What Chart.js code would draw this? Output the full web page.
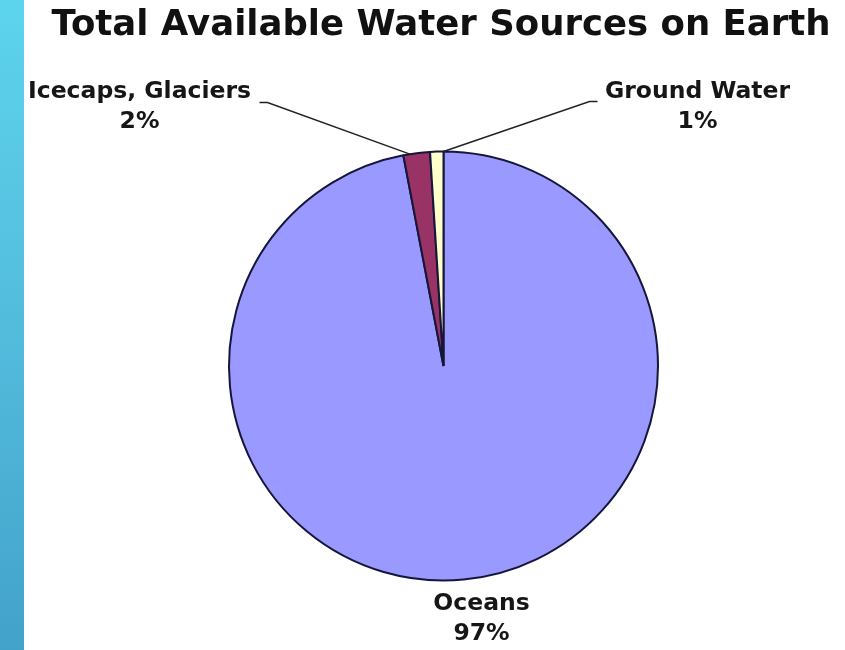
<!DOCTYPE html>
<html>
<head>
<meta charset="utf-8">
<title>Total Available Water Sources on Earth</title>
<script src="https://cdn.jsdelivr.net/npm/chart.js@4/dist/chart.umd.min.js"></script>
<style>
  html, body { margin: 0; padding: 0; background: #ffffff; }
  #wrap { position: relative; width: 845px; height: 650px; }
  canvas { display: block; }
</style>
</head>
<body>
<div id="wrap"><canvas id="chart" width="845" height="650"></canvas></div>
<script>
// Data
const chartTitle = 'Total Available Water Sources on Earth';
const categories = ['Oceans', 'Icecaps, Glaciers', 'Ground Water'];
const shares = [97, 2, 1];
const sliceColors = ['#9999FF', '#993366', '#FFFFCC'];

const FONT = '"DejaVu Sans", Verdana, sans-serif';

// Vertical accent stripe on the left edge and the chart heading
const backdrop = {
  id: 'backdrop',
  beforeDraw(chart) {
    const ctx = chart.ctx;
    ctx.save();
    ctx.fillStyle = '#ffffff';
    ctx.fillRect(0, 0, chart.width, chart.height);
    const g = ctx.createLinearGradient(0, 0, 0, chart.height);
    g.addColorStop(0, '#5dd4ed');
    g.addColorStop(0.5, '#53bcdd');
    g.addColorStop(1, '#43a2ca');
    ctx.fillStyle = g;
    ctx.fillRect(0, 0, 24, chart.height);

    ctx.fillStyle = '#111111';
    ctx.font = 'bold 35.5px ' + FONT;
    ctx.textAlign = 'center';
    ctx.textBaseline = 'alphabetic';
    ctx.fillText(chartTitle, 441, 35);
    ctx.restore();
  }
};

// Category / percentage labels with leader lines to their slices
const sliceLabels = {
  id: 'sliceLabels',
  afterDatasetsDraw(chart) {
    const ctx = chart.ctx;
    const arcs = chart.getDatasetMeta(0).data;
    const total = shares.reduce((a, b) => a + b, 0);
    const first = arcs[0];
    const cx = first.x, cy = first.y, R = first.outerRadius;

    // label anchor (centre of text, baseline of first line) and leader path
    const layout = [
      { x: cx + 38, y: cy + R + 29, lead: null },
      { x: cx - 304, y: cy - R - 54, lead: { sx: cx - 184, sy: cy - R - 49, hx: cx - 176, frac: 0.25 } },
      { x: cx + 254, y: cy - R - 54, lead: { sx: cx + 154, sy: cy - R - 50, hx: cx + 146, frac: 1.0 } }
    ];

    ctx.save();
    ctx.strokeStyle = '#222222';
    ctx.lineWidth = 1.5;
    layout.forEach((l, i) => {
      if (!l.lead) return;
      const a = arcs[i];
      const ang = a.startAngle + l.lead.frac * (a.endAngle - a.startAngle);
      const px = a.x + Math.cos(ang) * a.outerRadius;
      const py = a.y + Math.sin(ang) * a.outerRadius;
      ctx.beginPath();
      ctx.moveTo(l.lead.sx, l.lead.sy);
      ctx.lineTo(l.lead.hx, l.lead.sy);
      ctx.lineTo(px, py);
      ctx.stroke();
    });

    ctx.fillStyle = '#161616';
    ctx.font = 'bold 23.5px ' + FONT;
    ctx.textAlign = 'center';
    ctx.textBaseline = 'alphabetic';
    layout.forEach((l, i) => {
      const pct = Math.round(shares[i] / total * 100) + '%';
      ctx.fillText(categories[i], l.x, l.y);
      ctx.fillText(pct, l.x, l.y + 30);
    });
    ctx.restore();
  }
};

new Chart(document.getElementById('chart'), {
  type: 'pie',
  data: {
    labels: categories,
    datasets: [{
      data: shares,
      backgroundColor: sliceColors,
      borderColor: '#16163a',
      borderWidth: 2,
      borderAlign: 'center'
    }]
  },
  options: {
    responsive: false,
    animation: false,
    layout: { padding: { top: 150, bottom: 68, left: 228, right: 186 } },
    plugins: {
      legend: { display: false },
      title: { display: false },
      tooltip: { enabled: false }
    }
  },
  plugins: [backdrop, sliceLabels]
});
</script>
</body>
</html>
